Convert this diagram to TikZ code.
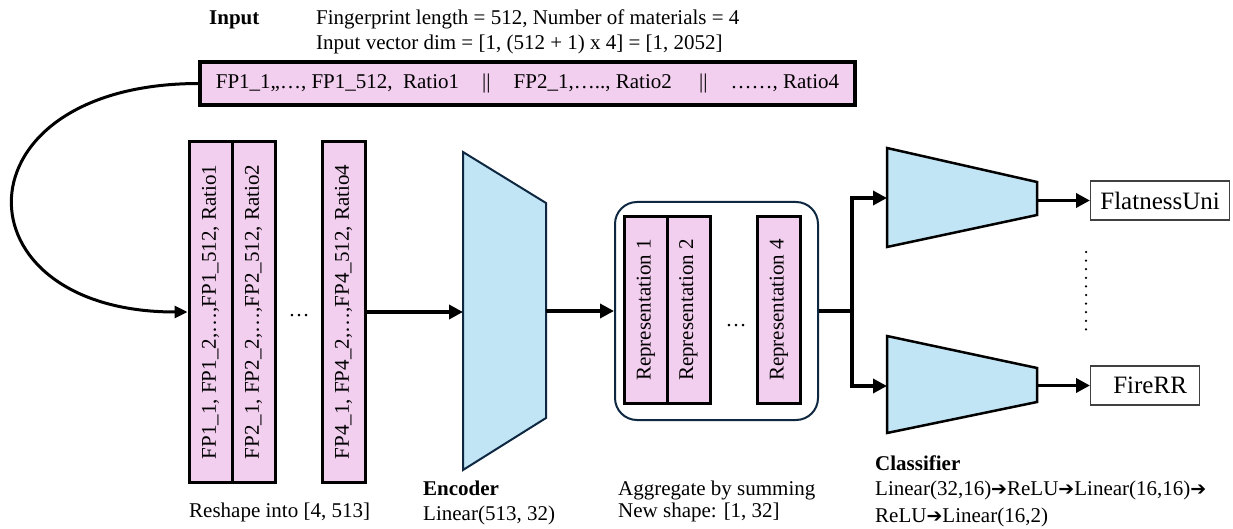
\documentclass[tikz,border=0pt]{standalone}
\usepackage{fontspec}
\setmainfont{Liberation Serif}
\newfontfamily\djv{DejaVu Sans}
\usetikzlibrary{arrows.meta,calc}
\definecolor{pinkf}{HTML}{F2CEEF}
\definecolor{bluef}{HTML}{C1E5F5}
\definecolor{navy}{HTML}{0E2841}
\newcommand{\harr}{{\djv\fontsize{19}{24}\selectfont ➔}}
\begin{document}
\begin{tikzpicture}[x=1pt,y=-1pt, font=\fontsize{21}{25}\selectfont,
  col/.style={draw, line width=3pt, fill=pinkf, rotate=90, minimum width=340pt, minimum height=43pt, inner sep=0pt},
  repcol/.style={draw, line width=3pt, fill=pinkf, rotate=90, minimum width=186pt, minimum height=43pt, inner sep=0pt},
  arr/.style={line width=3.8pt, -{Triangle[length=14pt,width=14pt]}},
  trap/.style={fill=bluef, line width=2.5pt, line join=miter},
  lbl/.style={anchor=base west, inner sep=0pt},
  outbox/.style={draw=black!75, line width=1.2pt, fill=white, minimum height=39pt, inner sep=0pt, anchor=west, font=\fontsize{25}{28}\selectfont},
]
\useasboundingbox (0,0) rectangle (1233,529);

% top texts
\node[lbl] (inT) at (209,25) {\textbf{Input}};
\node[lbl] (inL1) at (316,25) {Fingerprint length = 512, Number of materials = 4};
\node[lbl] (inL2) at (316,50) {Input vector dim = [1, (512 + 1) x 4] = [1, 2052]};

% input vector box
\node[draw, line width=3.5pt, fill=pinkf, minimum width=655pt, minimum height=43pt, inner sep=0pt] (inbox) at (527.5,83.5)
  {FP1\_1,,…, FP1\_512,\hspace{0.5em}Ratio1\hspace{1.1em}||\hspace{1.1em}FP2\_1,…..,\ Ratio2\hspace{1.3em}||\hspace{1.1em}……, Ratio4};

% reshaped columns
\node[col] (c1) at (210.5,312) {FP1\_1, FP1\_2,…,FP1\_512, Ratio1};
\node[col] (c2) at (253.5,312) {FP2\_1, FP2\_2,…,FP2\_512, Ratio2};
\node[col] (c4) at (343.5,312) {FP4\_1, FP4\_2,…,FP4\_512, Ratio4};
\node[anchor=base, inner sep=0pt] (d1) at (299,316) {…};
\node[lbl] (reshape) at (189,517) {Reshape into [4, 513]};

% curve
\draw[line width=3pt, -{Triangle[length=13pt,width=12pt]}] (inbox.west) .. controls (-47,84) and (-47,312) .. (c1.north);

% encoder
\draw[trap, draw=navy, line width=2pt] (463,152) -- (546,203) -- (546,418) -- (463,470) -- cycle;
\coordinate (encL) at (463,312);
\coordinate (encR) at (546,311);
\node[lbl] (encT) at (423,495) {\textbf{Encoder}};
\node[lbl] (encS) at (423,520) {Linear(513, 32)};
\draw[arr] (c4.south) -- (encL);

% aggregation
\node[draw=navy, line width=2pt, rounded corners=22pt, minimum width=203pt, minimum height=218pt, inner sep=0pt] (agg) at (716.5,311) {};
\node[repcol] (r1) at (646,310) {Representation 1};
\node[repcol] (r2) at (688.5,310) {Representation 2};
\node[repcol] (r4) at (779,310) {Representation 4};
\node[anchor=base, inner sep=0pt] (d2) at (736,326) {…};
\node[lbl] (aggT) at (618,495) {Aggregate by summing};
\node[lbl] (aggS) at (618,517) {New shape: [1, 32]};
\draw[arr] (encR) -- (agg.west);

% classifiers
\draw[trap, draw=black] (887,148) -- (1037,182) -- (1037,215) -- (887,247) -- cycle;
\draw[trap, draw=black] (887,336) -- (1037,368) -- (1037,402) -- (887,433) -- cycle;
\coordinate (br) at (852,311);
\coordinate (k1L) at (887,198);
\coordinate (k2L) at (887,386);
\coordinate (k1R) at (1037,200.5);
\coordinate (k2R) at (1037,385.5);
\draw[arr] (agg.east) -- (br) |- (k1L);
\draw[arr] (br) |- (k2L);

% outputs
\node[outbox, minimum width=139pt] (fl) at (1090,200.5) {FlatnessUni};
\node[outbox, minimum width=109pt] (fr) at (1090,385.5) {\hspace{10pt}FireRR\hspace{18pt}};
\draw[arr] (k1R) -- (fl.west);
\draw[arr] (k2R) -- (fr.west);
\coordinate (dt) at (1086,252);
\coordinate (db) at (1086,330);
\draw[line width=2.5pt, line cap=round, dash pattern=on 0pt off 8.6pt] (dt) -- (db);

\node[lbl] (clT) at (875,470) {\textbf{Classifier}};
\node[lbl] (clS1) at (875,495) {Linear(32,16)\harr ReLU\harr Linear(16,16)\harr};
\node[lbl] (clS2) at (875,522) {ReLU\harr Linear(16,2)};
\end{tikzpicture}
\end{document}
